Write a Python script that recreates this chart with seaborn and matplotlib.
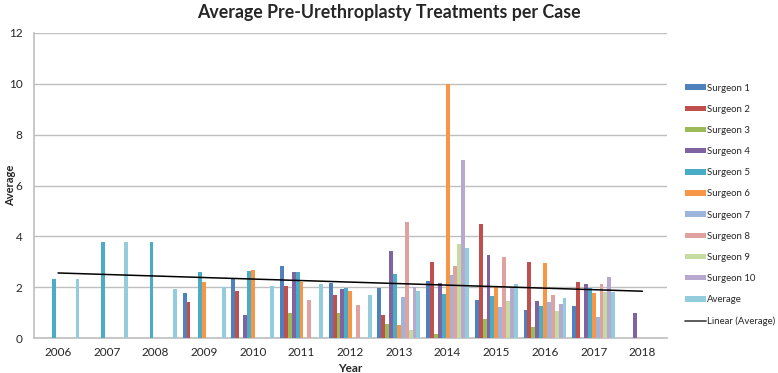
import numpy as np
import pandas as pd
import matplotlib
matplotlib.use("Agg")
import matplotlib.pyplot as plt
import seaborn as sns
from matplotlib.patches import Patch
from matplotlib.lines import Line2D
from matplotlib import font_manager

nan = np.nan
years = [2006, 2007, 2008, 2009, 2010, 2011, 2012, 2013, 2014, 2015, 2016, 2017, 2018]
surgeon1 = [nan, nan, nan, 1.76, 2.35, 2.83, 2.17, 1.96, 2.24, 1.50, 1.13, 1.26, nan]
surgeon2 = [nan, nan, nan, 1.42, 1.84, 2.05, 1.72, 0.92, 2.99, 4.49, 2.99, 2.20, nan]
surgeon3 = [nan, nan, nan, nan, nan, 1.00, 1.00, 0.55, 0.17, 0.75, 0.43, nan, nan]
surgeon4 = [nan, nan, nan, nan, 0.92, 2.62, 1.92, 3.41, 2.17, 3.28, 1.46, 2.13, 1.01]
surgeon5 = [2.32, 3.78, 3.78, 2.62, 2.66, 2.62, 1.97, 2.53, 1.75, 1.67, 1.26, 1.97, nan]
surgeon6 = [nan, nan, nan, 2.20, 2.70, 2.20, 1.84, 0.51, 10.0, 2.02, 2.95, 1.78, nan]
surgeon7 = [nan, nan, nan, nan, nan, nan, nan, 1.63, 2.48, 1.21, 1.42, 0.84, nan]
surgeon8 = [nan, nan, nan, nan, nan, 1.50, 1.30, 4.57, 2.82, 3.20, 1.70, 2.13, nan]
surgeon9 = [nan, nan, nan, nan, nan, nan, nan, 0.34, 3.70, 1.46, 1.07, 1.82, nan]
surgeon10 = [nan, nan, nan, nan, nan, nan, nan, 2.00, 7.00, 2.02, 1.34, 2.41, nan]
average = [2.32, 3.78, 1.92, 2.00, 2.07, 2.13, 1.70, 1.84, 3.53, 2.15, 1.59, 1.82, nan]

series_names = ["Surgeon 1", "Surgeon 2", "Surgeon 3", "Surgeon 4", "Surgeon 5",
                "Surgeon 6", "Surgeon 7", "Surgeon 8", "Surgeon 9", "Surgeon 10", "Average"]
series_values = [surgeon1, surgeon2, surgeon3, surgeon4, surgeon5, surgeon6,
                 surgeon7, surgeon8, surgeon9, surgeon10, average]
colors = ["#4F81BD", "#C0504D", "#9BBB59", "#8064A2", "#4BACC6", "#F79646",
          "#9DB5DC", "#E0A2A0", "#C5DBA2", "#B7A8CF", "#93CDDD"]

rows = []
for name, vals in zip(series_names, series_values):
    for y, v in zip(years, vals):
        if not np.isnan(v):
            rows.append({"Year": str(y), "Series": name, "Value": v})
df = pd.DataFrame(rows)

sns.set_style("white")
plt.rcParams["font.family"] = ["Lato", "DejaVu Sans"]

available = {f.name for f in font_manager.fontManager.ttflist}
if "Liberation Sans Narrow" in available:
    legend_font = {"family": "Liberation Sans Narrow", "size": 8.2}
else:
    legend_font = {"family": "Lato", "size": 6.9}

fig = plt.figure(figsize=(7.78, 3.73), dpi=100)
ax = fig.add_axes([0.0433, 0.093, 0.8137, 0.8193])

year_order = [str(y) for y in years]
sns.barplot(data=df, x="Year", y="Value", hue="Series", order=year_order,
            hue_order=series_names, palette=colors, width=0.88, dodge=True,
            errorbar=None, saturation=1, legend=False, ax=ax, zorder=3,
            linewidth=0)

# Linear trend line of Average
xa = np.arange(len(years))
avg = np.array(average)
mask = ~np.isnan(avg)
coef = np.polyfit(xa[mask], avg[mask], 1)
ax.plot([xa[0], xa[-1]], np.polyval(coef, [xa[0], xa[-1]]), color="black",
        lw=1.1, zorder=5)

ax.set_xlim(-0.5, len(years) - 0.5)
ax.set_ylim(0, 12)
ax.set_yticks(range(0, 13, 2))
ax.yaxis.grid(True, color="#BFBFBF", lw=1.0, zorder=0)
ax.set_axisbelow(True)
for s in ["top", "right"]:
    ax.spines[s].set_visible(False)
for s in ["left", "bottom"]:
    ax.spines[s].set_color("#BFBFBF")
    ax.spines[s].set_linewidth(1.2)
ax.set_xticks(xa)
ax.set_xticks(np.arange(-0.5, len(years), 1.0), minor=True)
ax.tick_params(axis="x", which="major", length=0, labelsize=8.5, pad=6, labelcolor="#262626")
ax.tick_params(axis="x", which="minor", length=4, color="#BFBFBF", width=1)
ax.tick_params(axis="y", length=4, color="#BFBFBF", width=1, labelsize=8.5, labelcolor="#262626", pad=4)
ax.set_xlabel("Year", fontsize=8.5, fontweight="bold", labelpad=4)
ax.set_ylabel("Average", fontsize=8, fontweight="bold")
ax.yaxis.set_label_coords(-0.028, 0.5)

fig.suptitle("Average Pre-Urethroplasty Treatments per Case", x=0.5, y=0.99,
             fontsize=12.8, fontweight="bold", va="top")

handles = [Patch(facecolor=c, edgecolor="none") for c in colors]
handles.append(Line2D([0], [0], color="#404040", lw=1.2))
labels = series_names + ["Linear (Average)"]
leg = fig.legend(handles, labels, loc="upper left", bbox_to_anchor=(0.881, 0.776),
                 frameon=False, prop=legend_font, handlelength=2.1, handleheight=0.5,
                 handletextpad=0.15, labelspacing=1.27, borderaxespad=0, borderpad=0)

fig.savefig("out.png", dpi=100)
